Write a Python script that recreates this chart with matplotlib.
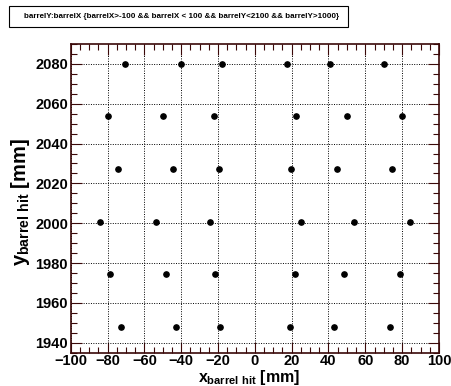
import numpy as np
import matplotlib
matplotlib.use('Agg')
import matplotlib.pyplot as plt
from matplotlib.ticker import MultipleLocator
from matplotlib.patches import Rectangle

plt.rcParams['font.family'] = 'Liberation Sans'
plt.rcParams['font.weight'] = 'bold'
plt.rcParams['mathtext.fontset'] = 'custom'
plt.rcParams['mathtext.rm'] = 'Liberation Sans:bold'
plt.rcParams['mathtext.it'] = 'Liberation Sans:bold'
plt.rcParams['mathtext.bf'] = 'Liberation Sans:bold'

# hit rows (y) and the x of each hit in that row
row_y = [2080.0, 2053.7, 2027.2, 2000.6, 1974.3, 1948.1]
row1_x = [-70.5, -40.2, -17.6, 17.7, 40.6, 70.4]
row2_x = [-80.0, -50.0, -22.4, 22.6, 49.9, 80.0]
row3_x = [-74.5, -44.5, -19.6, 19.8, 44.4, 74.4]
row4_x = [-84.0, -53.8, -24.3, 24.8, 54.0, 84.2]
row5_x = [-78.5, -48.3, -21.6, 21.7, 48.6, 78.8]
row6_x = [-72.9, -42.7, -18.9, 18.9, 42.9, 73.3]
rows_x = [row1_x, row2_x, row3_x, row4_x, row5_x, row6_x]

title = 'barrelY:barrelX {barrelX>-100 && barrelX < 100 && barrelY<2100 && barrelY>1000}'

W, H = 452, 386
fig = plt.figure(figsize=(W / 100, H / 100), dpi=100)
ax = fig.add_axes([0.1564, 0.0863, 0.8148, 0.7997])

xs = np.concatenate(rows_x)
ys = np.concatenate([[y] * len(r) for y, r in zip(row_y, rows_x)])
ax.plot(xs, ys, 'o', color='black', ms=3.8, zorder=3)

ax.set_xlim(-100, 100)
ax.set_ylim(1935, 2090)
ax.xaxis.set_major_locator(MultipleLocator(20))
ax.xaxis.set_minor_locator(MultipleLocator(5))
ax.yaxis.set_major_locator(MultipleLocator(20))
ax.yaxis.set_minor_locator(MultipleLocator(5))
ax.grid(True, which='major', color='black', linestyle=(0, (1, 1.5)), linewidth=0.7)

frame = '#3a0808'
for s in ax.spines.values():
    s.set_color(frame)
    s.set_linewidth(1.2)
ax.tick_params(which='both', direction='in', top=True, right=True, color=frame)
ax.tick_params(which='major', length=8, width=0.8, labelsize=10.5, pad=2)
ax.tick_params(axis='x', which='major', pad=1)
ax.tick_params(which='minor', length=4, width=0.8)
for lab in ax.get_xticklabels() + ax.get_yticklabels():
    lab.set_fontweight('bold')

fig.text(300 / W, 1 - 382 / H, r'$x_{\rm barrel\ hit}$ [mm]', ha='right', va='baseline', fontsize=11.5)
fig.text(0.045, 0.31, r'$y_{\rm barrel\ hit}$ [mm]', ha='center', va='bottom',
         rotation=90, fontsize=14.5)

# title box drawn in pixel coords of the figure
fig.patches.append(Rectangle((9 / W, 1 - 27 / H), 339 / W, 21 / H, transform=fig.transFigure,
                             facecolor='white', edgecolor='black', linewidth=0.8))
fig.text(182 / W, 1 - 16.5 / H, title, ha='center', va='center', fontsize=5.8)

fig.savefig('out.png', dpi=100)
